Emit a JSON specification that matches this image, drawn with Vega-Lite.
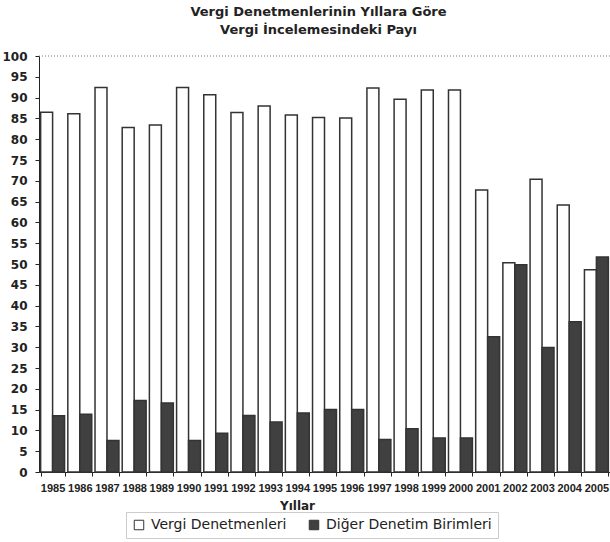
{
  "$schema": "https://vega.github.io/schema/vega-lite/v6.json",
  "width": 571,
  "height": 416,
  "autosize": {"type": "none"},
  "padding": {"left": 39, "top": 56, "right": 0, "bottom": 70},
  "background": "white",
  "title": {
    "text": ["Vergi Denetmenlerinin Yıllara Göre", "Vergi İncelemesindeki  Payı"],
    "font": "DejaVu Sans",
    "fontSize": 13,
    "fontWeight": "bold",
    "color": "#222222",
    "anchor": "middle",
    "frame": "group",
    "dx": -6,
    "offset": 13,
    "lineHeight": 18
  },
  "config": {"view": {"stroke": null}},
  "data": {
    "values": [
      {"yil": "1985", "seri": "Vergi Denetmenleri", "pay": 86.5},
      {"yil": "1985", "seri": "Diğer Denetim Birimleri", "pay": 13.5},
      {"yil": "1986", "seri": "Vergi Denetmenleri", "pay": 86.1},
      {"yil": "1986", "seri": "Diğer Denetim Birimleri", "pay": 13.9},
      {"yil": "1987", "seri": "Vergi Denetmenleri", "pay": 92.4},
      {"yil": "1987", "seri": "Diğer Denetim Birimleri", "pay": 7.6},
      {"yil": "1988", "seri": "Vergi Denetmenleri", "pay": 82.8},
      {"yil": "1988", "seri": "Diğer Denetim Birimleri", "pay": 17.2},
      {"yil": "1989", "seri": "Vergi Denetmenleri", "pay": 83.4},
      {"yil": "1989", "seri": "Diğer Denetim Birimleri", "pay": 16.6},
      {"yil": "1990", "seri": "Vergi Denetmenleri", "pay": 92.4},
      {"yil": "1990", "seri": "Diğer Denetim Birimleri", "pay": 7.6},
      {"yil": "1991", "seri": "Vergi Denetmenleri", "pay": 90.7},
      {"yil": "1991", "seri": "Diğer Denetim Birimleri", "pay": 9.3},
      {"yil": "1992", "seri": "Vergi Denetmenleri", "pay": 86.4},
      {"yil": "1992", "seri": "Diğer Denetim Birimleri", "pay": 13.6},
      {"yil": "1993", "seri": "Vergi Denetmenleri", "pay": 88.0},
      {"yil": "1993", "seri": "Diğer Denetim Birimleri", "pay": 12.0},
      {"yil": "1994", "seri": "Vergi Denetmenleri", "pay": 85.8},
      {"yil": "1994", "seri": "Diğer Denetim Birimleri", "pay": 14.2},
      {"yil": "1995", "seri": "Vergi Denetmenleri", "pay": 85.2},
      {"yil": "1995", "seri": "Diğer Denetim Birimleri", "pay": 15.0},
      {"yil": "1996", "seri": "Vergi Denetmenleri", "pay": 85.1},
      {"yil": "1996", "seri": "Diğer Denetim Birimleri", "pay": 15.0},
      {"yil": "1997", "seri": "Vergi Denetmenleri", "pay": 92.3},
      {"yil": "1997", "seri": "Diğer Denetim Birimleri", "pay": 7.8},
      {"yil": "1998", "seri": "Vergi Denetmenleri", "pay": 89.6},
      {"yil": "1998", "seri": "Diğer Denetim Birimleri", "pay": 10.4},
      {"yil": "1999", "seri": "Vergi Denetmenleri", "pay": 91.8},
      {"yil": "1999", "seri": "Diğer Denetim Birimleri", "pay": 8.2},
      {"yil": "2000", "seri": "Vergi Denetmenleri", "pay": 91.8},
      {"yil": "2000", "seri": "Diğer Denetim Birimleri", "pay": 8.2},
      {"yil": "2001", "seri": "Vergi Denetmenleri", "pay": 67.8},
      {"yil": "2001", "seri": "Diğer Denetim Birimleri", "pay": 32.5},
      {"yil": "2002", "seri": "Vergi Denetmenleri", "pay": 50.3},
      {"yil": "2002", "seri": "Diğer Denetim Birimleri", "pay": 49.8},
      {"yil": "2003", "seri": "Vergi Denetmenleri", "pay": 70.4},
      {"yil": "2003", "seri": "Diğer Denetim Birimleri", "pay": 29.9},
      {"yil": "2004", "seri": "Vergi Denetmenleri", "pay": 64.2},
      {"yil": "2004", "seri": "Diğer Denetim Birimleri", "pay": 36.1},
      {"yil": "2005", "seri": "Vergi Denetmenleri", "pay": 48.6},
      {"yil": "2005", "seri": "Diğer Denetim Birimleri", "pay": 51.7}
    ]
  },
  "layer": [
    {
      "mark": {"type": "bar", "stroke": "#333333", "strokeWidth": 1.5},
      "encoding": {
        "x": {
          "field": "yil",
          "type": "nominal",
          "scale": {"paddingInner": 0.12, "paddingOuter": 0.06},
          "axis": {
            "title": "Yıllar",
            "titleFont": "DejaVu Sans",
            "titleFontSize": 12,
            "titleFontWeight": "bold",
            "titleColor": "#222222",
            "titleX": 258,
            "titleY": 37,
            "titleAlign": "center",
            "titleBaseline": "alphabetic",
            "labelAngle": 0,
            "labelFont": "Liberation Sans",
            "labelFontSize": 11,
            "labelFontWeight": "bold",
            "labelColor": "#222222",
            "labelOverlap": false,
            "labelBound": false,
            "labelFlush": false,
            "labelPadding": 6,
            "tickBand": "extent",
            "tickSize": 4,
            "tickColor": "#222222",
            "domainColor": "#222222",
            "grid": false
          }
        },
        "xOffset": {"field": "seri", "sort": ["Vergi Denetmenleri", "Diğer Denetim Birimleri"]},
        "y": {
          "field": "pay",
          "type": "quantitative",
          "scale": {"domain": [0, 100], "nice": false},
          "axis": {
            "title": null,
            "values": [0, 5, 10, 15, 20, 25, 30, 35, 40, 45, 50, 55, 60, 65, 70, 75, 80, 85, 90, 95, 100],
            "labelOverlap": false,
            "labelFont": "DejaVu Sans",
            "labelFontSize": 12,
            "labelFontWeight": "bold",
            "labelColor": "#222222",
            "labelPadding": 8,
            "tickSize": 4,
            "tickColor": "#222222",
            "domainColor": "#222222",
            "grid": false
          }
        },
        "color": {
          "field": "seri",
          "type": "nominal",
          "scale": {"domain": ["Vergi Denetmenleri", "Diğer Denetim Birimleri"], "range": ["#ffffff", "#404040"]},
          "legend": {
            "title": null,
            "orient": "none",
            "legendX": 87,
            "legendY": 456,
            "direction": "horizontal",
            "symbolType": "square",
            "symbolSize": 90,
            "symbolStrokeColor": "#333333",
            "symbolStrokeWidth": 1,
            "labelFont": "DejaVu Sans",
            "labelFontSize": 14,
            "labelColor": "#222222",
            "labelLimit": 400,
            "labelOffset": 5,
            "columnPadding": 20,
            "padding": 6,
            "strokeColor": "#cccccc"
          }
        }
      }
    },
    {
      "data": {"values": [{"ref": "top"}]},
      "mark": {"type": "rule", "strokeDash": [1, 2], "color": "#777777", "strokeWidth": 1},
      "encoding": {
        "y": {
          "datum": 100,
          "type": "quantitative",
          "axis": {
            "title": null,
            "values": [0, 5, 10, 15, 20, 25, 30, 35, 40, 45, 50, 55, 60, 65, 70, 75, 80, 85, 90, 95, 100],
            "labelOverlap": false,
            "labelFont": "DejaVu Sans",
            "labelFontSize": 12,
            "labelFontWeight": "bold",
            "labelColor": "#222222",
            "labelPadding": 8,
            "tickSize": 4,
            "tickColor": "#222222",
            "domainColor": "#222222",
            "grid": false
          }
        }
      }
    }
  ]
}
